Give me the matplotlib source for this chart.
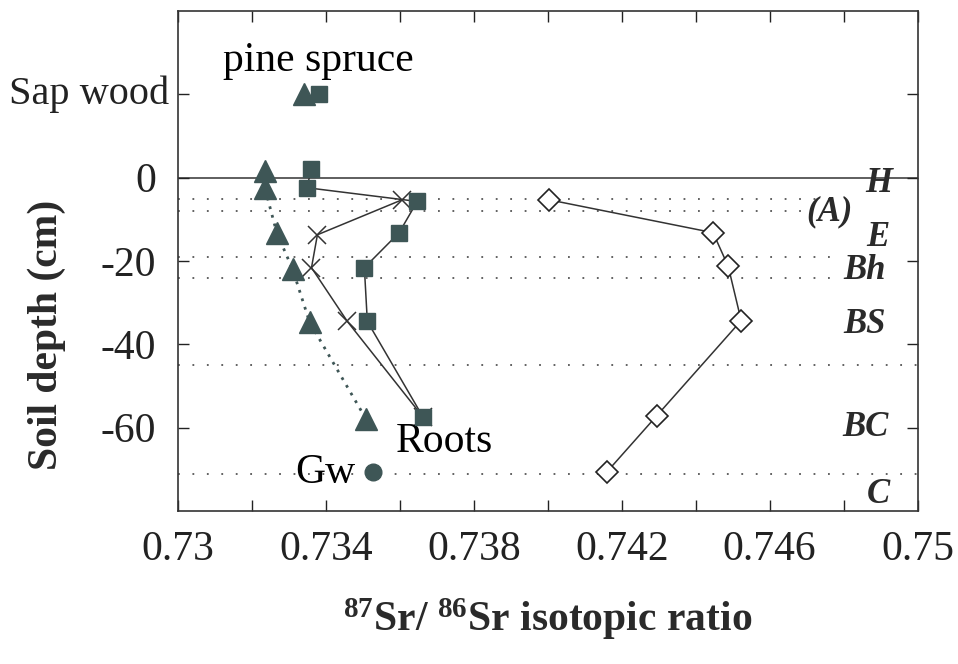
import matplotlib.pyplot as plt
import matplotlib.transforms as mtransforms

plt.rcParams["font.family"] = ["Liberation Serif", "DejaVu Serif"]
plt.rcParams["mathtext.default"] = "regular"

# ==== Dados ====
sap_ratio_pine, sap_ratio_spruce, sap_depth = 0.7334, 0.7338, 20

pine_ratio = [0.73235, 0.73235, 0.73267, 0.73310, 0.73356, 0.73509]
pine_depth = [1.5, -2.5, -13.2, -22.0, -34.7, -58.0]

spruce_ratio = [0.73361, 0.73348, 0.73647, 0.73598, 0.73504, 0.73512, 0.73663]
spruce_depth = [2.0, -2.4, -5.7, -13.2, -21.6, -34.5, -57.5]

cross_ratio = [0.73606, 0.73377, 0.73361, 0.73458, 0.73663]
cross_depth = [-5.3, -13.7, -21.6, -34.5, -57.5]

soil_ratio = [0.74003, 0.74447, 0.74488, 0.74523, 0.74294, 0.74159]
soil_depth = [-5.3, -13.2, -21.3, -34.3, -57.2, -70.7]

gw_ratio, gw_depth = 0.73526, -70.7

horizon_bounds = [-5, -8, -19, -24, -45, -71]
horizon_ends = [0.74766, 0.7469, 0.7477, 0.7477, 0.75, 0.75]
horizon_names = ["H", "(A)", "E", "Bh", "BS", "BC", "C"]

xticks = [0.730, 0.732, 0.734, 0.736, 0.738, 0.740, 0.742, 0.744, 0.746, 0.748, 0.750]
xticklabels = ["0.73", "", "0.734", "", "0.738", "", "0.742", "", "0.746", "", "0.75"]
yticks = [20, 0, -20, -40, -60]
yticklabels = ["", "0", "-20", "-40", "-60"]

# ==== Gráfico ====
DARK = "#3e5656"
fig = plt.figure(figsize=(9.58, 6.64), dpi=100)
ax = fig.add_axes([0.1858, 0.2304, 0.772, 0.753])

ax.axhline(0, color="#333333", lw=1.1, zorder=1)
for yb, xe in zip(horizon_bounds, horizon_ends):
    ax.plot([0.730, xe], [yb, yb], color="#555555", lw=1.3,
            linestyle=(0, (1, 7)), zorder=1)

ax.plot(pine_ratio, pine_depth, color=DARK, lw=2.0, linestyle=(0, (1, 2.2)), zorder=2)
ax.plot(spruce_ratio, spruce_depth, color="#333333", lw=1.1, zorder=2)
ax.plot(cross_ratio, cross_depth, color="#333333", lw=1.1, zorder=2)
ax.plot(soil_ratio, soil_depth, color="#333333", lw=1.1, zorder=2)

ax.plot(pine_ratio, pine_depth, "^", ms=16, color=DARK, mec=DARK, ls="none", zorder=4)
ax.plot(spruce_ratio, spruce_depth, "s", ms=12, color=DARK, mec=DARK, ls="none", zorder=4)
ax.plot(cross_ratio, cross_depth, "x", ms=13, mew=1.1, color="#333333", ls="none", zorder=3)
ax.plot(soil_ratio, soil_depth, "D", ms=11, mfc="white", mec="#222222", mew=1.2,
        ls="none", zorder=4)
ax.plot([sap_ratio_pine], [sap_depth], "^", ms=16, color=DARK, zorder=4)
ax.plot([sap_ratio_spruce], [sap_depth], "s", ms=12, color=DARK, zorder=4)
ax.plot([gw_ratio], [gw_depth], "o", ms=12, color=DARK, zorder=4)

ax.text(0.7338, 28.0, "pine spruce", fontsize=30, ha="center", va="center")
ax.text(0.7372, -63.3, "Roots", fontsize=30, ha="center", va="center")
ax.text(0.73398, -70.7, "Gw", fontsize=30, ha="center", va="center")

# horizontes do solo
hx = [0.74895, 0.74763, 0.74892, 0.74858, 0.74858, 0.74858, 0.74895]
hy = [-1.5, -8.2, -14.3, -22.3, -35.3, -60.0, -76.0]
for name, x, y in zip(horizon_names, hx, hy):
    ax.text(x, y, name, fontsize=25, fontweight="bold", fontstyle="italic",
            ha="center", va="center", color="#2a2a2a")

ax.set_xlim(0.730, 0.750)
ax.set_ylim(-80, 40)
ax.set_xticks(xticks)
ax.set_xticklabels(xticklabels)
ax.set_yticks(yticks)
ax.set_yticklabels(yticklabels)
ax.tick_params(axis="both", direction="in", length=8, width=1, labelsize=30,
               top=True, right=True, colors="#222222")
ax.tick_params(axis="x", pad=14)
ax.tick_params(axis="y", pad=16)

trans = mtransforms.blended_transform_factory(ax.transAxes, ax.transData)
ax.text(-0.012, sap_depth, "Sap wood", transform=trans, fontsize=29,
        ha="right", va="center", color="#222222")

ax.set_ylabel("Soil depth (cm)", fontsize=30, fontweight="bold", color="#2a2a2a")
ax.yaxis.set_label_coords(-0.152, 0.352)
ax.set_xlabel("$^{87}$Sr/ $^{86}$Sr isotopic ratio", fontsize=30,
              fontweight="bold", color="#2a2a2a")
ax.xaxis.set_label_coords(0.5, -0.17)

for s in ax.spines.values():
    s.set_linewidth(1.2)
    s.set_color("#333333")

fig.savefig("out.png", dpi=100)
